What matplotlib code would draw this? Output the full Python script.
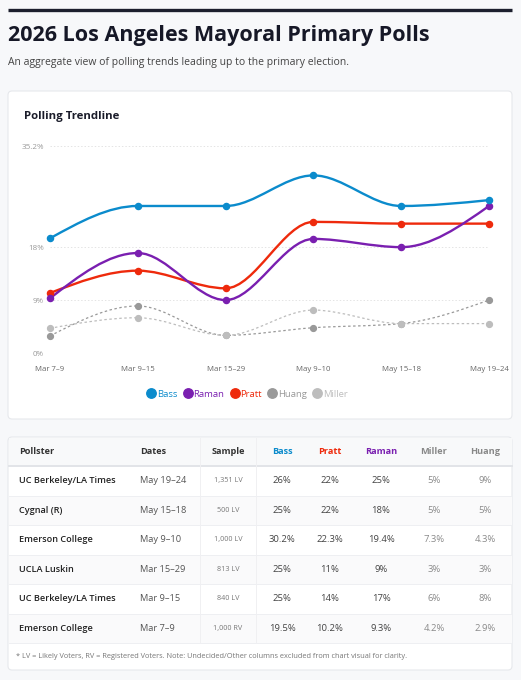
import matplotlib
matplotlib.use("Agg")
import matplotlib.pyplot as plt
from matplotlib.patches import FancyBboxPatch, Rectangle, PathPatch
from matplotlib.path import Path
from matplotlib.lines import Line2D
import numpy as np

plt.rcParams['font.family'] = ['Open Sans', 'DejaVu Sans']

# --- data ---
dates = ["Mar 7–9", "Mar 9–15", "Mar 15–29", "May 9–10", "May 15–18", "May 19–24"]
bass = [19.5, 25, 25, 30.2, 25, 26]
raman = [9.3, 17, 9, 19.4, 18, 25]
pratt = [10.2, 14, 11, 22.3, 22, 22]
huang = [2.9, 8, 3, 4.3, 5, 9]
miller = [4.2, 6, 3, 7.3, 5, 5]
y_ticks = [0, 9, 18, 35.2]

pollsters = ["UC Berkeley/LA Times", "Cygnal (R)", "Emerson College", "UCLA Luskin",
             "UC Berkeley/LA Times", "Emerson College"]
poll_dates = ["May 19–24", "May 15–18", "May 9–10", "Mar 15–29", "Mar 9–15", "Mar 7–9"]
samples = ["1,351 LV", "500 LV", "1,000 LV", "813 LV", "840 LV", "1,000 RV"]
t_bass = ["26%", "25%", "30.2%", "25%", "25%", "19.5%"]
t_pratt = ["22%", "22%", "22.3%", "11%", "14%", "10.2%"]
t_raman = ["25%", "18%", "19.4%", "9%", "17%", "9.3%"]
t_miller = ["5%", "5%", "7.3%", "3%", "6%", "4.2%"]
t_huang = ["9%", "5%", "4.3%", "3%", "8%", "2.9%"]

BLUE = "#0b8bcc"
PURPLE = "#7a1fb0"
RED = "#ee2a0c"
GRAY = "#999999"
LGRAY = "#bdbdbd"


def monotone_path(xs, ys):
    # cubic bezier segments, monotone-x style tangents
    xs = np.asarray(xs, float)
    ys = np.asarray(ys, float)
    n = len(xs)
    t = np.zeros(n)
    for i in range(1, n - 1):
        h0 = xs[i] - xs[i - 1]
        h1 = xs[i + 1] - xs[i]
        s0 = (ys[i] - ys[i - 1]) / h0
        s1 = (ys[i + 1] - ys[i]) / h1
        p = (s0 * h1 + s1 * h0) / (h0 + h1)
        t[i] = (np.sign(s0) + np.sign(s1)) * min(abs(s0), abs(s1), 0.5 * abs(p))
    h = xs[1] - xs[0]
    t[0] = (3 * (ys[1] - ys[0]) / h - t[1]) / 2
    h = xs[-1] - xs[-2]
    t[-1] = (3 * (ys[-1] - ys[-2]) / h - t[-2]) / 2
    verts = [(xs[0], ys[0])]
    codes = [Path.MOVETO]
    for i in range(n - 1):
        dx = (xs[i + 1] - xs[i]) / 3
        verts += [(xs[i] + dx, ys[i] + dx * t[i]),
                  (xs[i + 1] - dx, ys[i + 1] - dx * t[i + 1]),
                  (xs[i + 1], ys[i + 1])]
        codes += [Path.CURVE4] * 3
    return Path(verts, codes)


W, H = 521, 680
fig = plt.figure(figsize=(W / 100, H / 100), dpi=100)
fig.patch.set_facecolor("#f7f8fa")

bg = fig.add_axes([0, 0, 1, 1])
bg.set_xlim(0, W)
bg.set_ylim(H, 0)
bg.axis("off")

# header
bg.plot([8, 512], [9.5, 9.5], color="#1c1f2e", lw=2.4, solid_capstyle="butt")
bg.text(8, 36, "2026 Los Angeles Mayoral Primary Polls", fontsize=15.5, fontweight="bold",
        color="#161827", va="center", ha="left")
bg.text(8, 62, "An aggregate view of polling trends leading up to the primary election.",
        fontsize=7.5, color="#444444", va="center", ha="left")

# cards
for (x0, y0, x1, y1) in [(8, 91, 512, 419), (8, 437, 512, 670)]:
    bg.add_patch(FancyBboxPatch((x0, y0), x1 - x0, y1 - y0,
                                boxstyle="round,pad=0,rounding_size=4",
                                fc="white", ec="#e6e8ec", lw=0.8))

bg.text(24, 116, "Polling Trendline", fontsize=8.2, fontweight="bold", color="#1a1c2a",
        va="center", ha="left")

# --- chart ---
x0p, x1p, y0p, y1p = 50, 489, 353, 146
ax = fig.add_axes([x0p / W, 1 - y0p / H, (x1p - x0p) / W, (y0p - y1p) / H])
ax.set_xlim(0, len(dates) - 1)
ax.set_ylim(0, 35.2)
ax.set_facecolor("none")
for s in ax.spines.values():
    s.set_visible(False)
ax.set_yticks(y_ticks)
ax.set_yticklabels([f"{v:g}%" for v in y_ticks])
ax.set_xticks(range(len(dates)))
ax.set_xticklabels(dates)
ax.tick_params(axis="y", length=0, pad=4.5, labelsize=5.8, labelcolor="#9a9a9a")
ax.tick_params(axis="x", length=0, pad=9, labelsize=5.6, labelcolor="#666666")
for v in y_ticks:
    ax.axhline(v, color="#e4e4e4", lw=0.7, ls=(0, (1.5, 2)), zorder=0)

xs = np.arange(len(dates))
series = [
    ("Huang", huang, GRAY, True),
    ("Miller", miller, LGRAY, True),
    ("Pratt", pratt, RED, False),
    ("Raman", raman, PURPLE, False),
    ("Bass", bass, BLUE, False),
]
for name, vals, col, dotted in series:
    path = monotone_path(xs, vals)
    if dotted:
        patch = PathPatch(path, fill=False, ec=col, lw=0.9, ls=(0, (2, 2)),
                          transform=ax.transData, clip_on=False, zorder=2)
        ax.add_patch(patch)
        ax.plot(xs, vals, "o", color=col, ms=4.2, clip_on=False, zorder=3)
    else:
        patch = PathPatch(path, fill=False, ec=col, lw=1.7,
                          transform=ax.transData, clip_on=False, zorder=4)
        ax.add_patch(patch)
        ax.plot(xs, vals, "o", color=col, ms=4.4, clip_on=False, zorder=5)

leg_items = [("Bass", BLUE), ("Raman", PURPLE), ("Pratt", RED), ("Huang", GRAY), ("Miller", LGRAY)]
handles = [Line2D([], [], marker="o", ls="none", color=c, ms=6.8) for _, c in leg_items]
leg = fig.legend(handles, [n for n, _ in leg_items], loc="center",
                 bbox_to_anchor=(247 / W, 1 - 394 / H), ncol=5, frameon=False,
                 fontsize=6.8, handletextpad=0.1, columnspacing=0.6, handlelength=1.0)
for txt, (_, c) in zip(leg.get_texts(), leg_items):
    txt.set_color(c)

# --- table ---
head_top, head_bot, row_h = 437, 466, 29.5
bg.add_patch(Rectangle((8.5, head_top + 0.5), 503, head_bot - head_top - 0.5,
                       fc="#f8f9fa", ec="none"))
bg.plot([8.5, 511.5], [head_bot, head_bot], color="#e2e4e8", lw=1.4)
for i in range(len(pollsters)):
    top = head_bot + i * row_h
    if i % 2 == 1:
        bg.add_patch(Rectangle((8.5, top), 503, row_h, fc="#fafafb", ec="none"))
    bg.plot([8.5, 511.5], [top + row_h, top + row_h], color="#eeeff2", lw=0.7)
for xv in (200, 256):
    bg.plot([xv, xv], [head_top + 1, head_bot + len(pollsters) * row_h],
            color="#f0f0f2", lw=0.7)

hy = (head_top + head_bot) / 2
hdrs = [("Pollster", 19, "left", "#333333"), ("Dates", 140, "left", "#333333"),
        ("Sample", 228, "center", "#333333"), ("Bass", 282, "center", BLUE),
        ("Pratt", 330, "center", RED), ("Raman", 381, "center", PURPLE),
        ("Miller", 434, "center", "#888888"), ("Huang", 485, "center", "#888888")]
for label, xv, ha, col in hdrs:
    bg.text(xv, hy, label, fontsize=6.6, fontweight="bold", color=col, ha=ha, va="center")

for i in range(len(pollsters)):
    cy = head_bot + (i + 0.5) * row_h
    bg.text(19, cy, pollsters[i], fontsize=6.6, fontweight="semibold", color="#222222",
            ha="left", va="center")
    bg.text(140, cy, poll_dates[i], fontsize=6.7, color="#555555", ha="left", va="center")
    bg.text(228, cy, samples[i], fontsize=5.2, color="#777777", ha="center", va="center")
    for col_vals, xv, c in [(t_bass, 282, "#444444"), (t_pratt, 330, "#444444"),
                            (t_raman, 381, "#444444"), (t_miller, 434, "#8a8a8a"),
                            (t_huang, 485, "#8a8a8a")]:
        bg.text(xv, cy, col_vals[i], fontsize=6.8, color=c, ha="center", va="center")

bg.text(16, 657, "* LV = Likely Voters, RV = Registered Voters. Note: Undecided/Other columns "
        "excluded from chart visual for clarity.", fontsize=5.3, color="#777777",
        ha="left", va="center")

fig.savefig("out.png", dpi=100, facecolor=fig.get_facecolor())
